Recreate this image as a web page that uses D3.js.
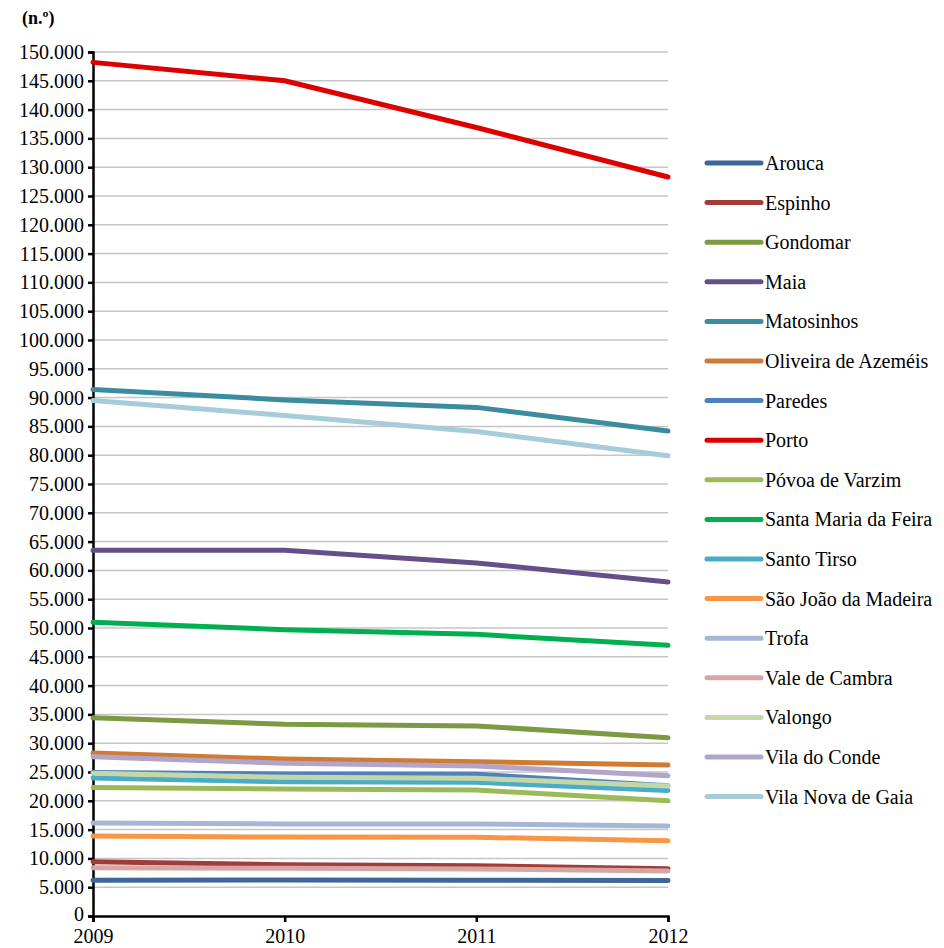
<!DOCTYPE html>
<html>
<head>
<meta charset="utf-8">
<script src="https://cdn.jsdelivr.net/npm/d3@7"></script>
<style>
  body { margin: 0; background: #fff; }
  #chart text { font-family: "Liberation Serif", "DejaVu Serif", serif; }
</style>
</head>
<body>
<svg id="chart" width="944" height="948"></svg>
<script>
// years on the x axis
var years = [2009, 2010, 2011, 2012]

// municipalities, in legend order
var names = ["Arouca", "Espinho", "Gondomar", "Maia", "Matosinhos", "Oliveira de Azeméis",
    "Paredes", "Porto", "Póvoa de Varzim", "Santa Maria da Feira", "Santo Tirso",
    "São João da Madeira", "Trofa", "Vale de Cambra", "Valongo", "Vila do Conde", "Vila Nova de Gaia"]

var arouca = [6200, 6250, 6200, 6170]
var espinho = [9430, 8900, 8740, 8220]
var gondomar = [34400, 33300, 33000, 30950]
var maia = [63500, 63500, 61300, 58000]
var matosinhos = [91400, 89600, 88300, 84200]
var oliveira = [28300, 27250, 26800, 26200]
var paredes = [24900, 24650, 24600, 22600]
var porto = [148200, 145000, 136900, 128300]
var povoa = [22300, 22050, 21870, 20000]
var feira = [51000, 49700, 48900, 47000]
var tirso = [23950, 23300, 23200, 21800]
var sjm = [13900, 13700, 13660, 13080]
var trofa = [16150, 15970, 15970, 15620]
var cambra = [8390, 8280, 8160, 7810]
var valongo = [24770, 24080, 23900, 22570]
var conde = [27650, 26500, 26040, 24350]
var gaia = [89500, 86900, 84100, 79900]

var seriesValues = [arouca, espinho, gondomar, maia, matosinhos, oliveira, paredes, porto,
    povoa, feira, tirso, sjm, trofa, cambra, valongo, conde, gaia]

var colors = ["#3D6699", "#A03D3B", "#7C9A43", "#664F88", "#3B8C9F", "#D07B35",
    "#4F81BD", "#DD0000", "#9BBB59", "#00B050", "#4BACC6",
    "#F79646", "#A6B7D6", "#D6A6A5", "#C4D7A8", "#B3A5C9", "#A6CBD9"]

var yTicks = d3.range(0, 150001, 5000)

var svg = d3.select("#chart")
var margin = { left: 93, top: 52, right: 276, bottom: 32 }
var width = 944 - margin.left - margin.right
var height = 948 - margin.top - margin.bottom
var g = svg.append("g").attr("transform", "translate(" + margin.left + "," + margin.top + ")")

var x = d3.scaleLinear().domain([2009, 2012]).range([0, width])
var y = d3.scaleLinear().domain([0, 150000]).range([height, 0])

var fmt = function (d) { return d === 0 ? "0" : d3.format(",")(d).replace(/,/g, ".") }

// gridlines
g.append("g")
    .selectAll("line")
    .data(yTicks.filter(function (d) { return d > 0 }))
    .enter().append("line")
    .attr("x1", 0)
    .attr("x2", width)
    .attr("y1", function (d) { return y(d) })
    .attr("y2", function (d) { return y(d) })
    .attr("stroke", "#C6C6C6")
    .attr("stroke-width", 1.5)

// y axis
var yAxis = g.append("g")
    .call(d3.axisLeft(y).tickValues(yTicks).tickFormat(fmt).tickSize(5).tickPadding(4))
yAxis.attr("font-family", null).attr("font-size", 20)
yAxis.select(".domain").attr("stroke", "#000").attr("stroke-width", 2.5)
yAxis.selectAll(".tick line").attr("stroke", "#000").attr("stroke-width", 2.5)
// the "0" label sits a little higher so it clears the year labels
yAxis.selectAll(".tick text").filter(function (d) { return d === 0 }).attr("dy", "0.2em")

// x axis
var xAxis = g.append("g")
    .attr("transform", "translate(0," + height + ")")
    .call(d3.axisBottom(x).tickValues(years).tickFormat(d3.format("d")).tickSize(6).tickPadding(7))
xAxis.attr("font-family", null).attr("font-size", 20)
xAxis.select(".domain").attr("stroke", "#000").attr("stroke-width", 2.5)
xAxis.selectAll(".tick line").attr("stroke", "#000").attr("stroke-width", 2.5)

// unit label
svg.append("text")
    .attr("x", 22)
    .attr("y", 24)
    .attr("font-size", 18)
    .attr("font-weight", "bold")
    .text("(n.º)")

// lines
var line = d3.line()
    .x(function (d, i) { return x(years[i]) })
    .y(function (d) { return y(d) })

g.selectAll(".series")
    .data(seriesValues)
    .enter().append("path")
    .attr("class", "series")
    .attr("d", line)
    .attr("fill", "none")
    .attr("stroke", function (d, i) { return colors[i] })
    .attr("stroke-width", 5)
    .attr("stroke-linejoin", "round")
    .attr("stroke-linecap", "round")

// legend
var legend = svg.append("g").attr("transform", "translate(707,163)")
var item = legend.selectAll(".item")
    .data(names)
    .enter().append("g")
    .attr("class", "item")
    .attr("transform", function (d, i) { return "translate(0," + (i * 39.6) + ")" })
item.append("line")
    .attr("x1", 0)
    .attr("x2", 54)
    .attr("stroke", function (d, i) { return colors[i] })
    .attr("stroke-width", 5)
    .attr("stroke-linecap", "round")
item.append("text")
    .attr("x", 58)
    .attr("dy", "0.35em")
    .attr("font-size", 20)
    .text(function (d) { return d })
</script>
</body>
</html>
